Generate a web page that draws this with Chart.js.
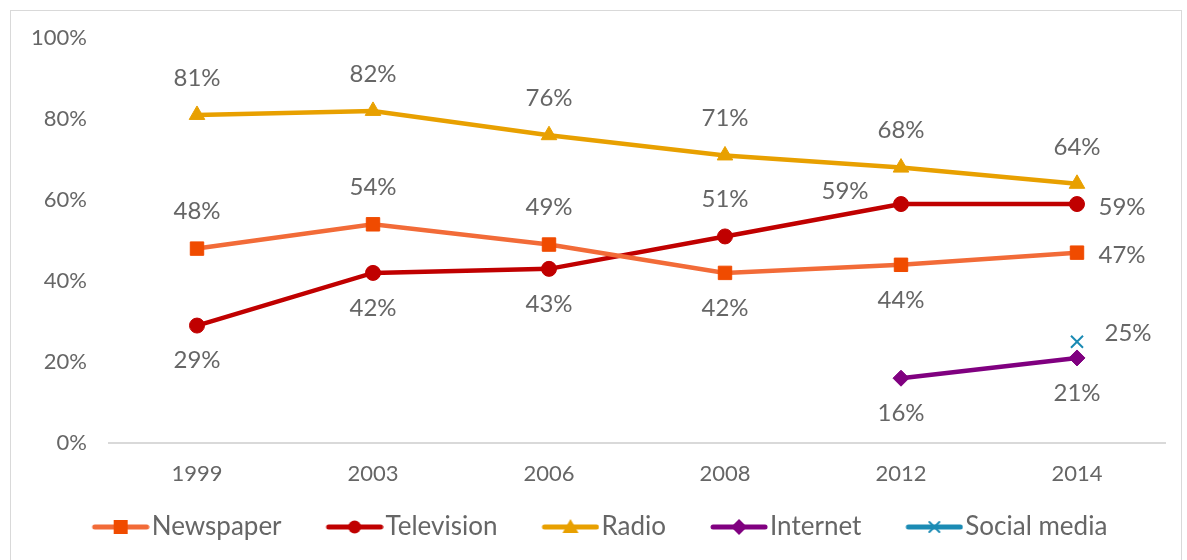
<!DOCTYPE html>
<html>
<head>
<meta charset="utf-8">
<script src="https://cdn.jsdelivr.net/npm/chart.js@4.4.1/dist/chart.umd.min.js"></script>
<style>
  html, body { margin: 0; padding: 0; background: #fff; }
  #frame { position: absolute; left: 10px; top: 10px; width: 1172px; height: 560px; border: 1px solid #d9d9d9; box-sizing: border-box; }
  #wrap { position: absolute; left: 0; top: 0; width: 1187px; height: 560px; }
</style>
</head>
<body>
<div id="frame"></div>
<div id="wrap"><canvas id="mediaChart" width="1187" height="560"></canvas></div>
<script>
const years = ["1999", "2003", "2006", "2008", "2012", "2014"];
const newspaper = [48, 54, 49, 42, 44, 47];
const television = [29, 42, 43, 51, 59, 59];
const radio = [81, 82, 76, 71, 68, 64];
const internet = [null, null, null, null, 16, 21];
const socialMedia = [null, null, null, null, null, 25];
const yTicks = [0, 20, 40, 60, 80, 100];

// where each value label sits around its point
const labelPos = {
  Newspaper: ["above", "above", "above", "below", "below", "right"],
  Television: ["below", "below", "below", "above", "upleft", "right"],
  Radio: ["above", "above", "above", "above", "above", "above"],
  Internet: [null, null, null, null, "below", "below"],
  "Social media": [null, null, null, null, null, "upright"]
};
const offsets = {
  above: [0, -37], below: [0, 35], right: [45, 3],
  upleft: [-56, -13], upright: [51, -8]
};

const FONT = "'Lato', 'Open Sans', sans-serif";
const TEXT = "#666666";

// legend swatch: short line with the marker on it, plus blank space on the left
// so the items spread out without growing the legend's vertical padding
const ICON_GAP = 45;
const ICON_W = ICON_GAP + 58;

function legendIcon(lineColor, markColor, style) {
  const c = document.createElement("canvas");
  c.width = ICON_W; c.height = 18;
  const g = c.getContext("2d");
  g.translate(ICON_GAP, 0);
  g.strokeStyle = lineColor; g.lineWidth = 5; g.lineCap = "round";
  g.beginPath(); g.moveTo(3, 9); g.lineTo(55, 9); g.stroke();
  g.fillStyle = markColor; g.strokeStyle = markColor;
  if (style === "rect") g.fillRect(22, 2, 14, 14);
  if (style === "circle") { g.beginPath(); g.arc(29, 9, 6.5, 0, Math.PI * 2); g.fill(); }
  if (style === "triangle") { g.beginPath(); g.moveTo(29, 1); g.lineTo(37, 15); g.lineTo(21, 15); g.closePath(); g.fill(); }
  if (style === "rectRot") { g.beginPath(); g.moveTo(29, 1); g.lineTo(37, 9); g.lineTo(29, 17); g.lineTo(21, 9); g.closePath(); g.fill(); }
  if (style === "crossRot") { g.lineWidth = 2; g.beginPath(); g.moveTo(24, 4); g.lineTo(34, 14); g.moveTo(34, 4); g.lineTo(24, 14); g.stroke(); }
  return c;
}

function series(label, data, lineColor, markColor, style, radius) {
  return {
    label, data,
    borderColor: lineColor,
    backgroundColor: markColor,
    pointBackgroundColor: markColor,
    pointBorderColor: markColor,
    pointStyle: style,
    pointRadius: radius,
    pointHoverRadius: radius,
    pointBorderWidth: style === "crossRot" ? 2 : 1,
    borderWidth: 4.5,
    tension: 0,
    spanGaps: false,
    legendIcon: legendIcon(lineColor, markColor, style)
  };
}

const valueLabels = {
  id: "valueLabels",
  afterDatasetsDraw(chart) {
    const ctx = chart.ctx;
    ctx.save();
    ctx.font = "24px " + FONT;
    ctx.fillStyle = TEXT;
    ctx.textAlign = "center";
    ctx.textBaseline = "middle";
    chart.data.datasets.forEach((ds, i) => {
      const meta = chart.getDatasetMeta(i);
      const pos = labelPos[ds.label];
      meta.data.forEach((pt, j) => {
        const v = ds.data[j];
        if (v == null || !pos[j]) return;
        const o = offsets[pos[j]];
        ctx.fillText(v + "%", pt.x + o[0], pt.y + o[1]);
      });
    });
    ctx.restore();
  }
};

new Chart(document.getElementById("mediaChart"), {
  type: "line",
  data: {
    labels: years,
    datasets: [
      series("Newspaper", newspaper, "#f26b38", "#f04b00", "rect", 9.5),
      series("Television", television, "#c00000", "#c00000", "circle", 7.5),
      series("Radio", radio, "#e8a000", "#e8a000", "triangle", 9),
      series("Internet", internet, "#800080", "#800080", "rectRot", 8),
      series("Social media", socialMedia, "#1b8bb4", "#1b8bb4", "crossRot", 8.5)
    ]
  },
  options: {
    responsive: false,
    animation: false,
    layout: { padding: { top: 38, right: 22, bottom: 10, left: 0 } },
    plugins: {
      tooltip: { enabled: false },
      legend: {
        position: "bottom",
        labels: {
          usePointStyle: true,
          pointStyleWidth: ICON_W - 22,
          padding: 10,
          color: TEXT,
          font: { family: FONT, size: 26 },
          generateLabels(chart) {
            return chart.data.datasets.map((ds, i) => ({
              text: ds.label,
              pointStyle: ds.legendIcon,
              fillStyle: ds.borderColor,
              strokeStyle: ds.borderColor,
              lineWidth: 0,
              fontColor: TEXT,
              hidden: false,
              datasetIndex: i
            }));
          }
        }
      }
    },
    scales: {
      x: {
        offset: true,
        afterFit(scale) { scale.height = 61; },
        grid: { display: false },
        border: { color: "#d9d9d9", width: 2 },
        ticks: { color: TEXT, font: { family: FONT, size: 22 }, padding: 10 }
      },
      y: {
        min: 0, max: 100,
        afterFit(scale) { scale.width = 109; },
        afterBuildTicks(scale) { scale.ticks = yTicks.map(v => ({ value: v })); },
        grid: { display: false },
        border: { display: false },
        ticks: { color: TEXT, font: { family: FONT, size: 22 }, padding: 14, callback: v => v + "%" }
      }
    }
  },
  plugins: [valueLabels]
});
</script>
</body>
</html>
